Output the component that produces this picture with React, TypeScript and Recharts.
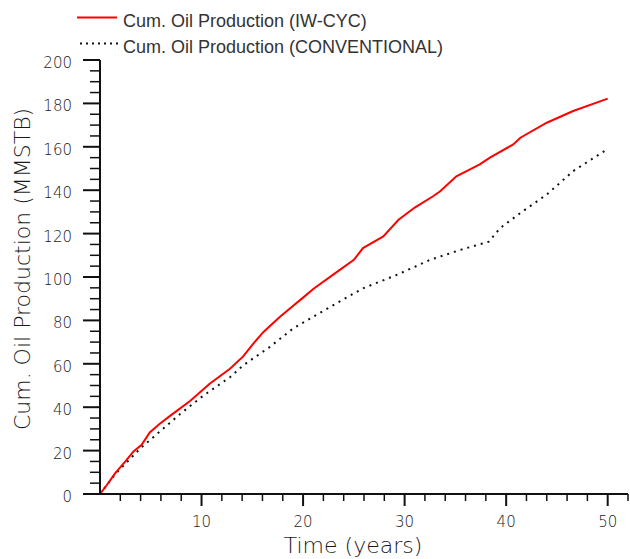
import { Legend, Line, LineChart, XAxis, YAxis } from "recharts"

// cumulative oil production
const iwYears = [
  0, 0.5, 1.5, 2.5, 3.3, 4.1, 4.9, 5.8, 6.9, 8.9, 10.8, 12.8, 14.1, 15.1, 16.1,
  17.7, 18.7, 20.0, 21.0, 23.0, 25.0, 25.9, 27.9, 29.4, 31.0, 32.8, 33.5, 35.1,
  37.4, 38.4, 40.7, 41.4, 44.0, 46.6, 50.0,
]
const iwMMSTB = [
  0, 3.0, 9.6, 15, 19.6, 22.7, 28.4, 32, 36, 43, 50.8, 57.7, 63.4, 69.3, 74.7,
  81.6, 85.5, 90.5, 94.5, 101.2, 107.9, 113.3, 118.7, 126.4, 132, 137.2, 139.5,
  146.4, 151.9, 155, 161.1, 164.2, 171.1, 176.5, 182.2,
]

const convYears = [
  0, 1.5, 3.9, 5.6, 7.9, 10.2, 12.8, 14.1, 16.7, 19.0, 22.7, 25.9, 29.2, 32.5,
  35.5, 38.3, 39.4, 41.4, 44.0, 46.6, 50.0,
]
const convMMSTB = [
  0, 9.2, 20.7, 27.6, 36.9, 45.4, 53.8, 59.3, 67.7, 76.2, 86.3, 94.8, 100.9,
  107.9, 112.5, 116.3, 122.5, 129.5, 138, 148.8, 159.0,
]

const xTicks = Array.from({ length: 27 }, (_, i) => i * 2)
const yTicks = Array.from({ length: 41 }, (_, i) => i * 5)

const iwData = iwYears.map((t, i) => ({ t, v: iwMMSTB[i] }))
const convData = convYears.map((t, i) => ({ t, v: convMMSTB[i] }))

const INK = "#111"
const TXT = "#1a1a1a"
const TICK_FONT = "'DejaVu Sans', sans-serif"

function XTick({ x, y, payload }: any) {
  const v = payload.value as number
  if (v === 0) return null
  const major = v % 10 === 0
  return (
    <g>
      <line x1={x} x2={x} y1={y} y2={y + (major ? 12 : 7)} stroke={INK} strokeWidth={major ? 2 : 1.5} />
      {major && (
        <text x={x} y={y + 33} textAnchor="middle" fontFamily={TICK_FONT} fontWeight={300} fontSize={15} fill={TXT}>
          {v}
        </text>
      )}
    </g>
  )
}

function YTick({ x, y, payload }: any) {
  const v = payload.value as number
  const major = v % 20 === 0
  return (
    <g>
      <line x1={x - (major ? 17 : 10)} x2={x} y1={y} y2={y} stroke={INK} strokeWidth={major ? 2 : 1.5} />
      {major && (
        <text x={x - 28} y={y + 8} textAnchor="end" fontFamily={TICK_FONT} fontWeight={300} fontSize={15} fill={TXT}>
          {v}
        </text>
      )}
    </g>
  )
}

function YTitle({ viewBox }: any) {
  const cx = 22
  const cy = viewBox.y + viewBox.height / 2 - 8
  return (
    <text
      x={cx}
      y={cy}
      transform={`rotate(-90 ${cx} ${cy})`}
      textAnchor="middle"
      dominantBaseline="central"
      fontFamily={TICK_FONT}
      fontWeight={300}
      fontSize={22}
      fill={TXT}
    >
      Cum. Oil Production (MMSTB)
    </text>
  )
}

function XTitle({ viewBox }: any) {
  const cx = viewBox.x + viewBox.width / 2 - 11
  return (
    <text x={cx} y={553} textAnchor="middle" fontFamily={TICK_FONT} fontWeight={300} fontSize={22} fill={TXT}>
      Time (years)
    </text>
  )
}

function LegendBox() {
  const font = "'Liberation Sans', Arial, sans-serif"
  return (
    <svg width={460} height={60} style={{ display: "block" }}>
      <line x1={77} x2={117} y1={17.5} y2={17.5} stroke="#ff0000" strokeWidth={2} />
      <text x={123} y={27} fontFamily={font} fontSize={18} fill="#333">
        Cum. Oil Production (IW-CYC)
      </text>
      <line x1={80} x2={118} y1={43.5} y2={43.5} stroke={INK} strokeWidth={2} strokeDasharray="2 4" />
      <text x={123} y={52.5} fontFamily={font} fontSize={18} fill="#333">
        Cum. Oil Production (CONVENTIONAL)
      </text>
    </svg>
  )
}

export default function App() {
  return (
    <div style={{ position: "absolute", left: 0, top: 0, width: 630, height: 559, background: "#fff" }}>
      <LineChart width={630} height={559} margin={{ top: 60, right: 2, left: 0, bottom: 0 }}>
        <XAxis
          type="number"
          dataKey="t"
          domain={[0, 52]}
          ticks={xTicks}
          interval={0}
          allowDataOverflow
          height={65}
          tickSize={0}
          tickMargin={0}
          tickLine={false}
          axisLine={{ stroke: INK, strokeWidth: 2 }}
          tick={<XTick />}
          label={<XTitle />}
        />
        <YAxis
          type="number"
          dataKey="v"
          domain={[0, 200]}
          ticks={yTicks}
          interval={0}
          width={100}
          tickSize={0}
          tickMargin={0}
          tickLine={false}
          axisLine={{ stroke: INK, strokeWidth: 2 }}
          tick={<YTick />}
          label={<YTitle />}
        />
        <Legend
          layout="vertical"
          align="center"
          verticalAlign="middle"
          wrapperStyle={{ top: 0, left: 0, width: 460, height: 60 }}
          content={<LegendBox />}
        />
        <Line
          data={convData}
          dataKey="v"
          type="linear"
          stroke={INK}
          strokeWidth={2}
          strokeDasharray="2 5"
          dot={false}
          isAnimationActive={false}
        />
        <Line
          data={iwData}
          dataKey="v"
          type="linear"
          stroke="#ff0000"
          strokeWidth={2}
          dot={false}
          isAnimationActive={false}
        />
      </LineChart>
    </div>
  )
}
